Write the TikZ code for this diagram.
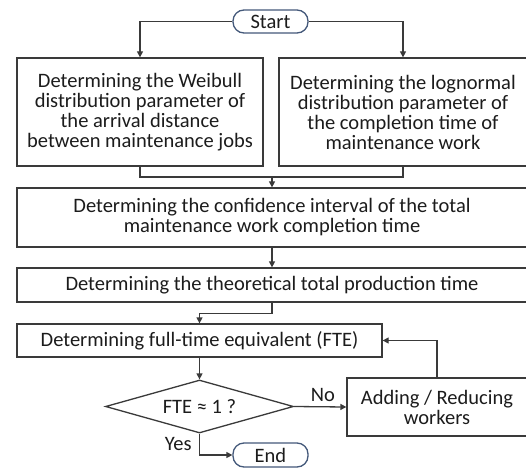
\documentclass[tikz,border=0pt]{standalone}
\usepackage{fontspec}
\setmainfont{Carlito}
\usetikzlibrary{shapes.geometric,arrows.meta}
\definecolor{edge}{HTML}{3A3A3A}
\definecolor{term}{HTML}{44597A}
\definecolor{txt}{HTML}{1C1C1C}
\newcommand\diagfont{\fontsize{20.5}{20}\selectfont\lineskiplimit=-8pt\relax\lineskip=0pt\relax}
\begin{document}
\begin{tikzpicture}[x=1pt,y=1pt,
  every node/.style={text=txt,font=\diagfont},
  box/.style={draw=edge,line width=1.3pt,fill=white,inner sep=0pt,align=center},
  terminal/.style={draw=term,line width=1.3pt,fill=white,rounded corners=11pt,inner sep=0pt,minimum width=75pt},
  decision/.style={draw=edge,line width=1.3pt,fill=white,shape=diamond,inner sep=0pt,minimum width=188pt,minimum height=53pt,aspect=3.5},
  conn/.style={draw=edge,line width=1.3pt},
  arr/.style={conn,-{Triangle[length=6pt,width=6pt]}}]
\clip (0,0) rectangle (526,-468);
\fill[white] (0,0) rectangle (526,-468);
\node[terminal,minimum height=23pt] (start) at (270.5,-21.5) {Start};
\node[box,minimum width=246pt,minimum height=108pt] (lb) at (140,-112) {Determining the Weibull\\distribution parameter of\\the arrival distance\\between maintenance jobs};
\node[box,minimum width=248pt,minimum height=108pt] (rb) at (403,-112) {Determining the lognormal\\distribution parameter of\\the completion time of\\maintenance work};
\node[box,minimum width=510pt,minimum height=59pt] (b3) at (272,-217.5) {Determining the confidence interval of the total\\maintenance work completion time};
\node[box,minimum width=510pt,minimum height=34pt] (b4) at (272,-285) {Determining the theoretical total production time};
\node[box,minimum width=365pt,minimum height=33pt] (b5) at (199.5,-340.5) {Determining full-time equivalent (FTE)};
\node[decision] (dia) at (199.5,-406.5) {FTE ≈ 1 ?};
\node[box,minimum width=180pt,minimum height=58pt] (add) at (437,-407) {Adding / Reducing\\workers};
\node[terminal,minimum height=24pt] (end) at (270.5,-455) {End};
\coordinate (m) at (272,-177);
\draw[arr] (start.west) -| (lb.north);
\draw[arr] (start.east) -| (rb.north);
\draw[conn] (lb.south) |- (m) -| (rb.south);
\draw[arr] (m) -- (b3.north);
\draw[arr] (b3.south) -- (b4.north);
\draw[arr] (b4.south) -- ++(0,-11) -| (b5.north);
\draw[arr] (b5.south) -- (dia.north);
\draw[arr] (dia.east) -- node[above=1pt,pos=0.55] {No} (add.west);
\draw[arr] (add.north) |- (b5.east);
\draw[arr] (dia.south) |- node[pos=0.25,left=4pt] {Yes} (end.west);
\end{tikzpicture}
\end{document}
